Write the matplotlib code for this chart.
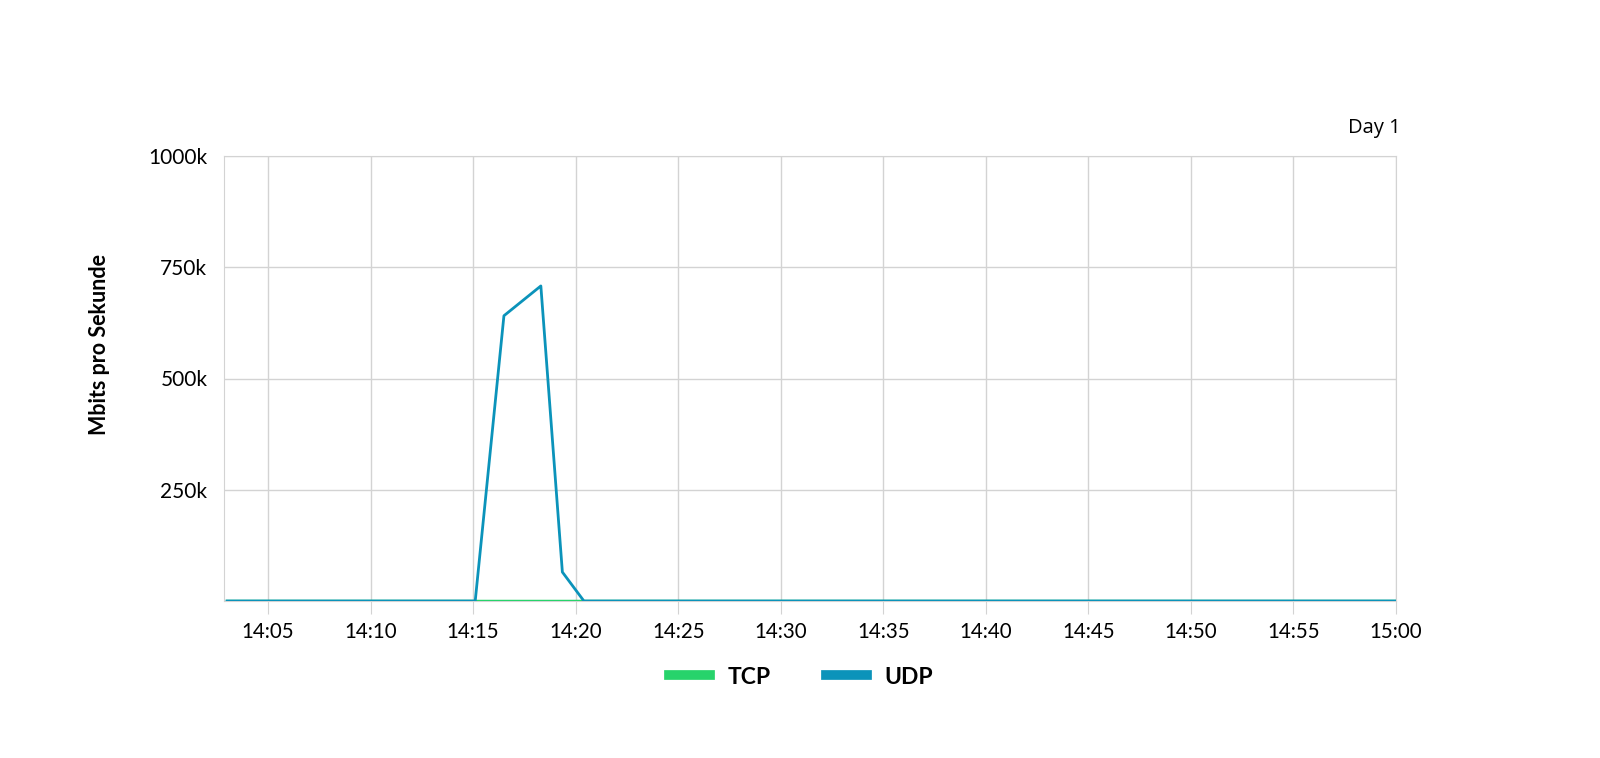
import matplotlib.pyplot as plt

# time in minutes after 14:00
udp_t = [3.0, 15.1, 16.5, 18.3, 19.35, 20.4, 60.0]
udp_v = [0, 0, 641, 708, 65, 0, 0]          # in k
tcp_t = [3.0, 60.0]
tcp_v = [0, 0]

tick_min = [5, 10, 15, 20, 25, 30, 35, 40, 45, 50, 55, 60]
tick_lbl = ["14:05", "14:10", "14:15", "14:20", "14:25", "14:30",
            "14:35", "14:40", "14:45", "14:50", "14:55", "15:00"]
ytick_val = [250, 500, 750, 1000]
ytick_lbl = ["250k", "500k", "750k", "1000k"]

tcpColor = "#27d36b"
udpColor = "#0b93ba"
gridColor = "#d3d3d3"

plt.rcParams['font.family'] = ['Lato', 'DejaVu Sans']

fig = plt.figure(figsize=(16, 7.58), dpi=100)
ax = fig.add_axes([224/1600, 1-601/758, (1396-224)/1600, (601-156)/758])

ax.plot(tcp_t, tcp_v, color=tcpColor, linewidth=2.5, zorder=3)
ax.plot(udp_t, udp_v, color=udpColor, linewidth=2, zorder=4)

ax.set_xlim(2.85, 60)
ax.set_ylim(0, 1000)
ax.set_xticks(tick_min)
ax.set_xticklabels(tick_lbl)
ax.set_yticks(ytick_val)
ax.set_yticklabels(ytick_lbl)
ax.grid(True, color=gridColor, linewidth=1)
ax.tick_params(axis='x', length=9, color=gridColor, labelsize=14.8, pad=6)
ax.tick_params(axis='y', length=0, labelsize=15, pad=12)
for s in ax.spines.values():
    s.set_color(gridColor)
ax.set_axisbelow(True)

fig.text(99/1600, 1-345/758, "Mbits pro Sekunde", rotation=90, ha='center', va='center',
         fontsize=15.5, fontweight='bold')
fig.text(1401/1600, 1-128/758, "Day 1", ha='right', va='center', fontsize=14.5,
         family=['Open Sans', 'DejaVu Sans'])

# legend
ax.plot([], [], color=tcpColor, linewidth=7, label="TCP")
ax.plot([], [], color=udpColor, linewidth=7, label="UDP")
handles, labels = ax.get_legend_handles_labels()
leg = fig.legend(handles[-2:], labels[-2:], loc='center', bbox_to_anchor=(801/1600, 1-677/758),
                 ncol=2, frameon=False, handlelength=1.8, columnspacing=2.4, handletextpad=0.75,
                 prop={'weight': 'bold', 'size': 16.5})

plt.savefig("out.png", dpi=100)
